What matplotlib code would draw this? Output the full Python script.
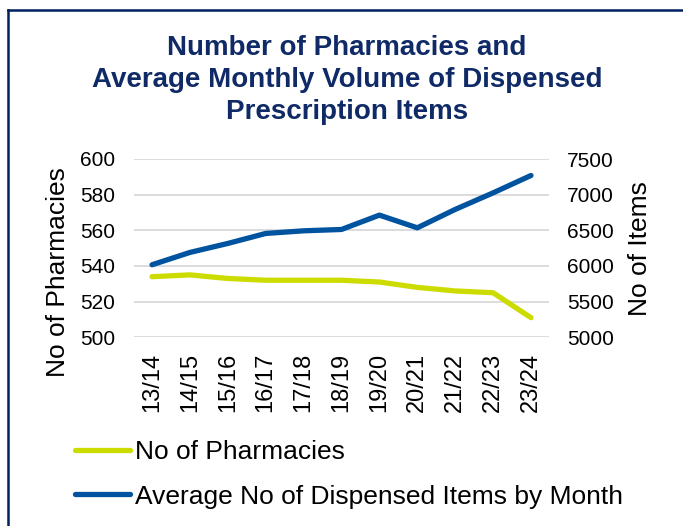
import matplotlib.pyplot as plt
from matplotlib.lines import Line2D

# data
years = ["13/14", "14/15", "15/16", "16/17", "17/18", "18/19",
         "19/20", "20/21", "21/22", "22/23", "23/24"]
pharmacies = [534, 535, 533, 532, 532, 532, 531, 528, 526, 525, 511]
items = [6017, 6190, 6316, 6456, 6493, 6512, 6713, 6535, 6793, 7025, 7269]

plt.rcParams['font.family'] = ['Liberation Sans', 'DejaVu Sans']

navy = '#0f2a66'
yellow = '#cddc00'
blue = '#00539f'

fig = plt.figure(figsize=(6.83, 5.26), dpi=100)
W, H = 683, 526

# frame round the chart (left and top edges only visible)
fig.add_artist(Line2D([7.5 / W, 7.5 / W], [0, 1 - 10 / H], transform=fig.transFigure,
                      color='#002060', lw=1.8))
fig.add_artist(Line2D([7.5 / W, 1], [1 - 10 / H, 1 - 10 / H], transform=fig.transFigure,
                      color='#002060', lw=1.8))

fig.text(347 / W, 1 - 80 / H,
         "Number of Pharmacies and\nAverage Monthly Volume of Dispensed\nPrescription Items",
         ha='center', va='center', fontsize=20, fontweight='bold', color=navy,
         linespacing=1.28)

ax = fig.add_axes([134 / W, 1 - 337.3 / H, 415 / W, (337.3 - 159) / H])
ax2 = ax.twinx()

x = list(range(len(years)))
l1, = ax.plot(x, pharmacies, color=yellow, lw=3.8, solid_capstyle='round',
              label='No of Pharmacies')
l2, = ax2.plot(x, items, color=blue, lw=3.8, solid_capstyle='round',
               label='Average No of Dispensed Items by Month')

ax.set_xlim(-0.476, len(years) - 1 + 0.476)
ax.set_ylim(500, 600)
ax.set_yticks(range(500, 601, 20))
ax2.set_ylim(5000, 7500)
ax2.set_yticks(range(5000, 7501, 500))
ax.set_xticks(x)
ax.set_xticklabels(years, rotation=90)

ax.grid(axis='y', color='#d9d9d9', lw=1.3)
ax.set_axisbelow(True)
for a in (ax, ax2):
    for s in a.spines.values():
        s.set_visible(False)

ax.tick_params(axis='y', length=0, pad=13.5, labelsize=15)
ax.tick_params(axis='x', length=0, pad=11, labelsize=17)
ax2.tick_params(axis='y', length=0, pad=13, labelsize=15)

ax.set_ylabel('No of Pharmacies', fontsize=19)
ax.yaxis.set_label_coords(-0.154, 0.366)
ax2.set_ylabel('No of Items', fontsize=19)
ax2.yaxis.set_label_coords(1.19, 0.5)

fig.legend(handles=[l1, l2], loc='upper left', bbox_to_anchor=(75 / W, 1 - 440 / H),
           frameon=False, fontsize=19, handlelength=2.08, handletextpad=0.2,
           labelspacing=0.78, borderaxespad=0, borderpad=0)

fig.savefig('out.png', dpi=100)
